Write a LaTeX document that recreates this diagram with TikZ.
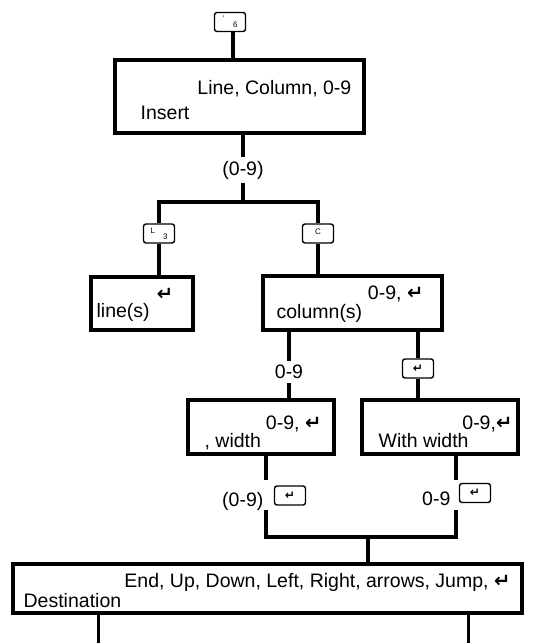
\documentclass[tikz,border=0pt]{standalone}
\usepackage{fontspec}
\setmainfont{Liberation Sans}
\newfontfamily\symfont{DejaVu Sans}
\usetikzlibrary{positioning,calc}
\newcommand\ret{{\symfont\bfseries\char"21B5}}
\newcommand\boxfont{\fontsize{19.5}{22}\selectfont}

\begin{document}
\begin{tikzpicture}[x=1pt, y=-1pt, line width=3.3pt,
 menu/.style={draw, rectangle, line width=3.3pt, inner sep=0pt},
 key/.style={draw, rounded corners=2.5pt, line width=1.4pt, minimum width=31pt, minimum height=19pt, inner sep=0pt, font=\fontsize{8}{8}\selectfont},
 txt/.style={font=\boxfont, inner sep=0pt},
 gap/.style={inner sep=0pt, minimum width=0pt, minimum height=26pt}]
\useasboundingbox (0,0) rectangle (535,643);
\node[menu, minimum width=249pt, minimum height=73pt] (ins)  at (239.5,96.5) {};
\node[menu, minimum width=102pt, minimum height=53pt] (lin)  at (142,303.5)  {};
\node[menu, minimum width=179pt, minimum height=54pt] (col)  at (352.5,303)  {};
\node[menu, minimum width=146pt, minimum height=54pt] (wid)  at (261,427)    {};
\node[menu, minimum width=156pt, minimum height=54pt] (wwid) at (440,427)    {};
\node[menu, minimum width=509pt, minimum height=49pt] (dest) at (267.5,588.5) {};
\node[txt, anchor=base east] (insR)  at (353,94)  {Line, Column, 0-9};
\node[txt, anchor=base west] (insL)  at (139,119) {Insert};
\node[txt, anchor=base west] (linL)  at (95,317)  {line(s)};
\node[txt] (linR)  at (165,294) {\ret};
\node[txt, anchor=base east] (colR)  at (425,299) {0-9, \ret};
\node[txt, anchor=base west] (colL)  at (275,318) {column(s)};
\node[txt, anchor=base east] (widR)  at (323,429) {0-9, \ret};
\node[txt, anchor=base west] (widL)  at (203,447) {, width};
\node[txt, anchor=base east] (wwidR) at (514,429) {0-9,\ret};
\node[txt, anchor=base west] (wwidL) at (377,447) {With width};
\node[txt, anchor=base east] (destR) at (512,587) {End, Up, Down, Left, Right, arrows, Jump, \ret};
\node[txt, anchor=base west] (destL) at (22,607)  {Destination};
\node[key] (kIns) at (230,22)  {\raisebox{3pt}{'}\hspace{9pt}\raisebox{-3pt}{6}};
\node[key] (kLin) at (159,233.5) {\raisebox{3pt}{L}\hspace{8pt}\raisebox{-3pt}{3}};
\node[key] (kCol) at (318,233.5) {\raisebox{3pt}{C}\hspace{14pt}};
\node[key, font=\fontsize{12}{12}\selectfont] (kRet)  at (418,368.5) {\ret};
\node[key, font=\fontsize{12}{12}\selectfont] (kRetL) at (290,495.5) {\ret};
\node[key, font=\fontsize{12}{12}\selectfont] (kRetR) at (475,493)   {\ret};
\node[txt, fill=white, inner sep=2pt] (n09a) at (243,170) {(0-9)};
\node[txt, fill=white, inner sep=2pt] (n09b) at (289,372) {0-9};
\node[txt, anchor=base east] (n09c) at (265,506) {(0-9)};
\node[txt, anchor=base east] (n09d) at (452,505) {0-9};
\node[gap] (gL) at (266,495) {};
\node[gap] (gR) at (456,495) {};
\coordinate (split) at (243,202);
\coordinate (join)  at (368,537);
\draw ([xshift=3pt]kIns.south) -- ([xshift=3pt]kIns.south |- ins.north);
\draw (n09a |- ins.south) -- (n09a) -- (split);
\draw (kLin.north) |- (split) -| (kCol.north);
\draw (kLin.south) -- (kLin.south |- lin.north);
\draw (kCol.south) -- (kCol.south |- col.north);
\draw ($(lin.south)+(-7,0)$) -- ($(lin.south)+(-7,0)$ |- dest.north);
\draw (n09b |- col.south) -- (n09b) -- (n09b |- wid.north);
\draw (kRet |- col.south) -- (kRet) -- (kRet |- wwid.north);
\draw (gL |- wid.south) -- (gL.north);
\draw (gR |- wwid.south) -- (gR.north);
\draw (gL.south) |- (join) -| (gR.south);
\draw (join) -- (join |- dest.north);
\draw ($(dest.south west)+(87,0)$) -- ++(0,30);
\draw ($(dest.south west)+(457,0)$) -- ++(0,30);
\end{tikzpicture}
\end{document}
